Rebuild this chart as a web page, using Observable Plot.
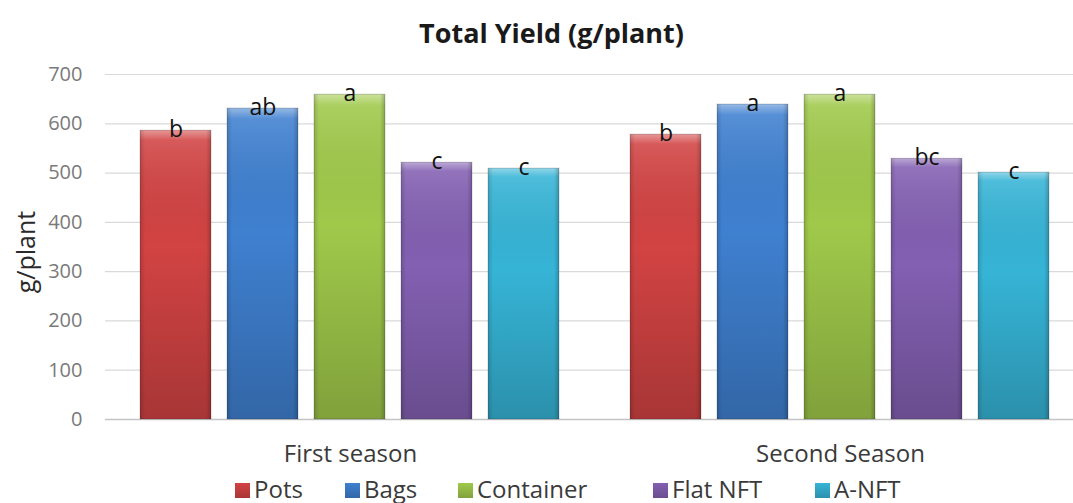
<!DOCTYPE html>
<html>
<head>
<meta charset="utf-8">
<script src="https://cdn.jsdelivr.net/npm/d3@7"></script>
<script src="https://cdn.jsdelivr.net/npm/@observablehq/plot@0.6"></script>
<style>
  html, body { margin: 0; padding: 0; background: #fff; overflow: hidden; }
  body { width: 1073px; height: 503px; font-family: "Open Sans", sans-serif; position: relative; }
  #title { height: 56px; box-sizing: border-box; text-align: center; line-height: 66px;
           font-family: "Open Sans", sans-serif; font-weight: 700; font-size: 27px; color: #1a1a1a; padding-left: 30px; }
  #ylabel { position: absolute; left: 25px; top: 252px; transform: translate(-50%, -50%) rotate(-90deg);
            font-size: 25px; color: #2a2a2a; white-space: nowrap; }
  #chart svg { display: block; overflow: visible; }
  #legend { position: relative; height: 27px; font-size: 24px; color: #3a3a3a; }
  #legend .item { position: absolute; top: -1px; line-height: 27px; white-space: nowrap; }
  #legend .sw { display: inline-block; width: 15px; height: 15px; vertical-align: middle; margin-right: 4px; position: relative; top: -1px; }
  g[aria-label="y-axis tick label"] text, g[aria-label="y-axis tick label"] { fill: #7a7a7a; font-size: 20px; }
  g[aria-label="fx-axis tick label"] text, g[aria-label="fx-axis tick label"] { fill: #3a3a3a; font-size: 24px; }
</style>
</head>
<body>
<div id="title">Total Yield (g/plant)</div>
<div id="ylabel">g/plant</div>
<div id="chart"></div>
<div id="legend"></div>
<script>
const seasons = ["First season", "Second Season"];
const treatments = ["Pots", "Bags", "Container", "Flat NFT", "A-NFT"];
const firstSeason = [586, 631, 659, 521, 509];
const secondSeason = [578, 639, 659, 529, 501];
const lettersFirst = ["b", "ab", "a", "c", "c"];
const lettersSecond = ["b", "a", "a", "bc", "c"];
const colors = ["#d24343", "#3f80d0", "#a0c94a", "#8360b2", "#36b4d6"];
const yTicks = [0, 100, 200, 300, 400, 500, 600, 700];

const data = [];
treatments.forEach((t, i) => {
  data.push({season: seasons[0], treatment: t, value: firstSeason[i], letter: lettersFirst[i]});
});
treatments.forEach((t, i) => {
  data.push({season: seasons[1], treatment: t, value: secondSeason[i], letter: lettersSecond[i]});
});

const chart = Plot.plot({
  width: 1073,
  height: 420,
  marginLeft: 105,
  marginRight: 0,
  marginTop: 18,
  marginBottom: 57,
  style: {fontFamily: "Open Sans, sans-serif", fontSize: "18px", background: "white"},
  fx: {domain: seasons, range: [105, 1085], padding: 0, label: null, tickSize: 0, tickPadding: 25},
  x: {domain: treatments, paddingInner: 0.18, paddingOuter: 0.39, axis: null},
  y: {domain: [0, 700], ticks: yTicks, tickSize: 0, tickPadding: 23, label: null},
  color: {domain: treatments, range: colors},
  marks: [
    Plot.ruleY(yTicks, {stroke: "#d9d9d9", strokeWidth: 1.2}),
    Plot.ruleY([0], {stroke: "#c4c4c4", strokeWidth: 1.5}),
    Plot.barY(data, {fx: "season", x: "treatment", y: "value", fill: "treatment"}),
    Plot.barY(data, {fx: "season", x: "treatment", y: "value", fill: "url(#shadeV)"}),
    Plot.barY(data, {fx: "season", x: "treatment", y: "value", fill: "url(#shadeH)", stroke: "rgba(0,0,0,0.18)", strokeWidth: 1}),
    Plot.text(data, {fx: "season", x: "treatment", y: "value", text: "letter", lineAnchor: "bottom", dy: 6, fontSize: 23, fill: "#111"})
  ]
});

const ns = "http://www.w3.org/2000/svg";
const defs = document.createElementNS(ns, "defs");
defs.innerHTML = `
<linearGradient id="shadeV" x1="0" y1="0" x2="0" y2="1">
  <stop offset="0" stop-color="#fff" stop-opacity="0.45"/>
  <stop offset="0.035" stop-color="#fff" stop-opacity="0.12"/>
  <stop offset="0.4" stop-color="#000" stop-opacity="0"/>
  <stop offset="1" stop-color="#000" stop-opacity="0.2"/>
</linearGradient>
<linearGradient id="shadeH" x1="0" y1="0" x2="1" y2="0">
  <stop offset="0" stop-color="#000" stop-opacity="0.15"/>
  <stop offset="0.07" stop-color="#000" stop-opacity="0"/>
  <stop offset="0.93" stop-color="#000" stop-opacity="0"/>
  <stop offset="1" stop-color="#000" stop-opacity="0.2"/>
</linearGradient>`;
chart.insertBefore(defs, chart.firstChild);
document.getElementById("chart").appendChild(chart);

const legendLefts = [235, 345, 458, 653, 815];
const legend = document.getElementById("legend");
treatments.forEach((t, i) => {
  const item = document.createElement("div");
  item.className = "item";
  item.style.left = legendLefts[i] + "px";
  const sw = document.createElement("span");
  sw.className = "sw";
  sw.style.background = `linear-gradient(${colors[i]}, ${d3.color(colors[i]).darker(0.6)})`;
  item.appendChild(sw);
  item.appendChild(document.createTextNode(t));
  legend.appendChild(item);
});
</script>
</body>
</html>
